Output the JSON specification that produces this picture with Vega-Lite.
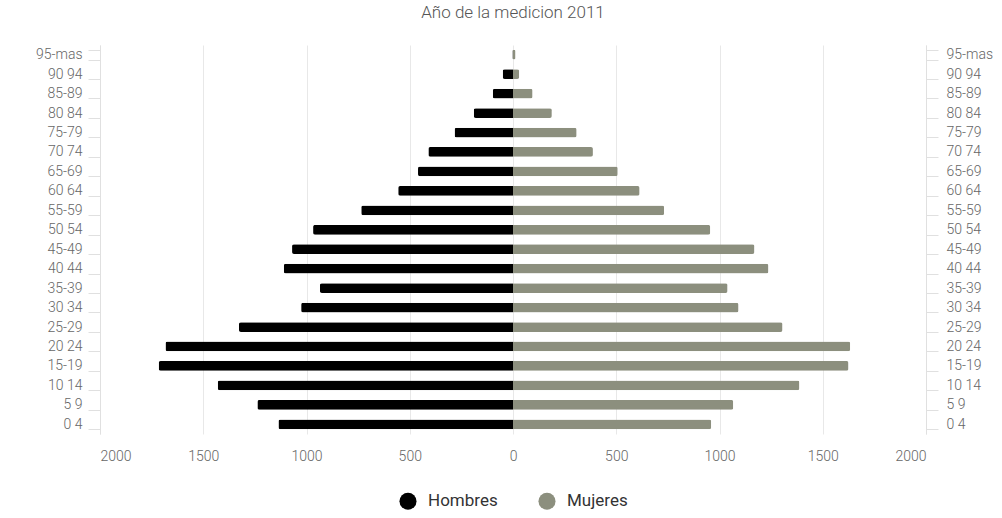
{
  "$schema": "https://vega.github.io/schema/vega-lite/v6.json",
  "autosize": "none",
  "width": 826,
  "height": 389,
  "padding": {"left": 100, "top": 45, "right": 76, "bottom": 84},
  "background": "white",
  "config": {
    "font": "Roboto",
    "view": {"stroke": null}
  },
  "title": {
    "text": "Año de la medicion  2011",
    "fontSize": 17,
    "fontWeight": 300,
    "color": "#555555",
    "font": "Roboto",
    "anchor": "middle",
    "offset": 16
  },
  "data": {
    "values": [
      {"edad": "95-mas", "sexo": "Hombres", "poblacion": 3},
      {"edad": "90 94", "sexo": "Hombres", "poblacion": 50},
      {"edad": "85-89", "sexo": "Hombres", "poblacion": 98},
      {"edad": "80 84", "sexo": "Hombres", "poblacion": 190},
      {"edad": "75-79", "sexo": "Hombres", "poblacion": 283},
      {"edad": "70 74", "sexo": "Hombres", "poblacion": 410},
      {"edad": "65-69", "sexo": "Hombres", "poblacion": 460},
      {"edad": "60 64", "sexo": "Hombres", "poblacion": 556},
      {"edad": "55-59", "sexo": "Hombres", "poblacion": 735},
      {"edad": "50 54", "sexo": "Hombres", "poblacion": 968},
      {"edad": "45-49", "sexo": "Hombres", "poblacion": 1070},
      {"edad": "40 44", "sexo": "Hombres", "poblacion": 1110},
      {"edad": "35-39", "sexo": "Hombres", "poblacion": 935},
      {"edad": "30 34", "sexo": "Hombres", "poblacion": 1026},
      {"edad": "25-29", "sexo": "Hombres", "poblacion": 1327},
      {"edad": "20 24", "sexo": "Hombres", "poblacion": 1683},
      {"edad": "15-19", "sexo": "Hombres", "poblacion": 1716},
      {"edad": "10 14", "sexo": "Hombres", "poblacion": 1430},
      {"edad": "5 9", "sexo": "Hombres", "poblacion": 1238},
      {"edad": "0 4", "sexo": "Hombres", "poblacion": 1136},
      {"edad": "95-mas", "sexo": "Mujeres", "poblacion": 12},
      {"edad": "90 94", "sexo": "Mujeres", "poblacion": 30},
      {"edad": "85-89", "sexo": "Mujeres", "poblacion": 95},
      {"edad": "80 84", "sexo": "Mujeres", "poblacion": 188},
      {"edad": "75-79", "sexo": "Mujeres", "poblacion": 308},
      {"edad": "70 74", "sexo": "Mujeres", "poblacion": 387},
      {"edad": "65-69", "sexo": "Mujeres", "poblacion": 507},
      {"edad": "60 64", "sexo": "Mujeres", "poblacion": 613},
      {"edad": "55-59", "sexo": "Mujeres", "poblacion": 732},
      {"edad": "50 54", "sexo": "Mujeres", "poblacion": 955},
      {"edad": "45-49", "sexo": "Mujeres", "poblacion": 1169},
      {"edad": "40 44", "sexo": "Mujeres", "poblacion": 1237},
      {"edad": "35-39", "sexo": "Mujeres", "poblacion": 1039},
      {"edad": "30 34", "sexo": "Mujeres", "poblacion": 1092},
      {"edad": "25-29", "sexo": "Mujeres", "poblacion": 1305},
      {"edad": "20 24", "sexo": "Mujeres", "poblacion": 1633},
      {"edad": "15-19", "sexo": "Mujeres", "poblacion": 1625},
      {"edad": "10 14", "sexo": "Mujeres", "poblacion": 1387},
      {"edad": "5 9", "sexo": "Mujeres", "poblacion": 1067},
      {"edad": "0 4", "sexo": "Mujeres", "poblacion": 960}
    ]
  },
  "transform": [
    {"calculate": "datum.sexo === 'Hombres' ? -datum.poblacion : datum.poblacion", "as": "valor"}
  ],
  "encoding": {
    "y": {
      "field": "edad",
      "type": "nominal",
      "sort": ["95-mas", "90 94", "85-89", "80 84", "75-79", "70 74", "65-69", "60 64", "55-59", "50 54", "45-49", "40 44", "35-39", "30 34", "25-29", "20 24", "15-19", "10 14", "5 9", "0 4"],
      "scale": {"paddingInner": 0.5, "paddingOuter": 0.25}
    },
    "x": {
      "field": "valor",
      "type": "quantitative",
      "scale": {"domain": [-2000, 2000], "nice": false},
      "axis": {
        "title": null,
        "values": [-2000, -1500, -1000, -500, 0, 500, 1000, 1500, 2000],
        "labelExpr": "abs(datum.value)",
        "domain": false,
        "ticks": false,
        "grid": true,
        "gridColor": "#e8e8e8",
        "gridWidth": 1,
        "labelFontSize": 14,
        "labelFontWeight": 300,
        "labelColor": "#666666",
        "labelPadding": 15,
        "labelFont": "Roboto"
      }
    }
  },
  "layer": [
    {
      "mark": {"type": "bar", "cornerRadius": 2},
      "encoding": {
        "color": {
          "field": "sexo",
          "type": "nominal",
          "scale": {"domain": ["Hombres", "Mujeres"], "range": ["#000000", "#8c8f7e"]},
          "legend": {
            "title": null,
            "orient": "none",
            "legendX": 299,
            "legendY": 447,
            "direction": "horizontal",
            "symbolType": "circle",
            "symbolSize": 290,
            "symbolStrokeWidth": 0,
            "labelFontSize": 17,
            "labelFontWeight": 400,
            "labelColor": "#333333",
            "labelFont": "Roboto",
            "columnPadding": 40,
            "labelOffset": 11
          }
        },
        "y": {
          "field": "edad",
          "type": "nominal",
          "sort": ["95-mas", "90 94", "85-89", "80 84", "75-79", "70 74", "65-69", "60 64", "55-59", "50 54", "45-49", "40 44", "35-39", "30 34", "25-29", "20 24", "15-19", "10 14", "5 9", "0 4"],
          "scale": {"paddingInner": 0.5, "paddingOuter": 0.25},
          "axis": {
            "orient": "left",
            "title": null,
            "tickBand": "extent",
            "tickSize": 12,
            "tickColor": "#e0e0e0",
            "domainColor": "#e0e0e0",
            "labelFontSize": 14,
            "labelFontWeight": 300,
            "labelColor": "#666666",
            "labelPadding": 6,
            "labelFont": "Roboto"
          }
        }
      }
    },
    {
      "mark": {"type": "bar", "opacity": 0},
      "encoding": {
        "y": {
          "field": "edad",
          "type": "nominal",
          "sort": ["95-mas", "90 94", "85-89", "80 84", "75-79", "70 74", "65-69", "60 64", "55-59", "50 54", "45-49", "40 44", "35-39", "30 34", "25-29", "20 24", "15-19", "10 14", "5 9", "0 4"],
          "scale": {"paddingInner": 0.5, "paddingOuter": 0.25},
          "axis": {
            "orient": "right",
            "title": null,
            "tickBand": "extent",
            "tickSize": 12,
            "tickColor": "#e0e0e0",
            "domainColor": "#e0e0e0",
            "labelFontSize": 14,
            "labelFontWeight": 300,
            "labelColor": "#666666",
            "labelPadding": 8,
            "labelFont": "Roboto"
          }
        }
      }
    }
  ],
  "resolve": {"axis": {"y": "independent"}}
}
